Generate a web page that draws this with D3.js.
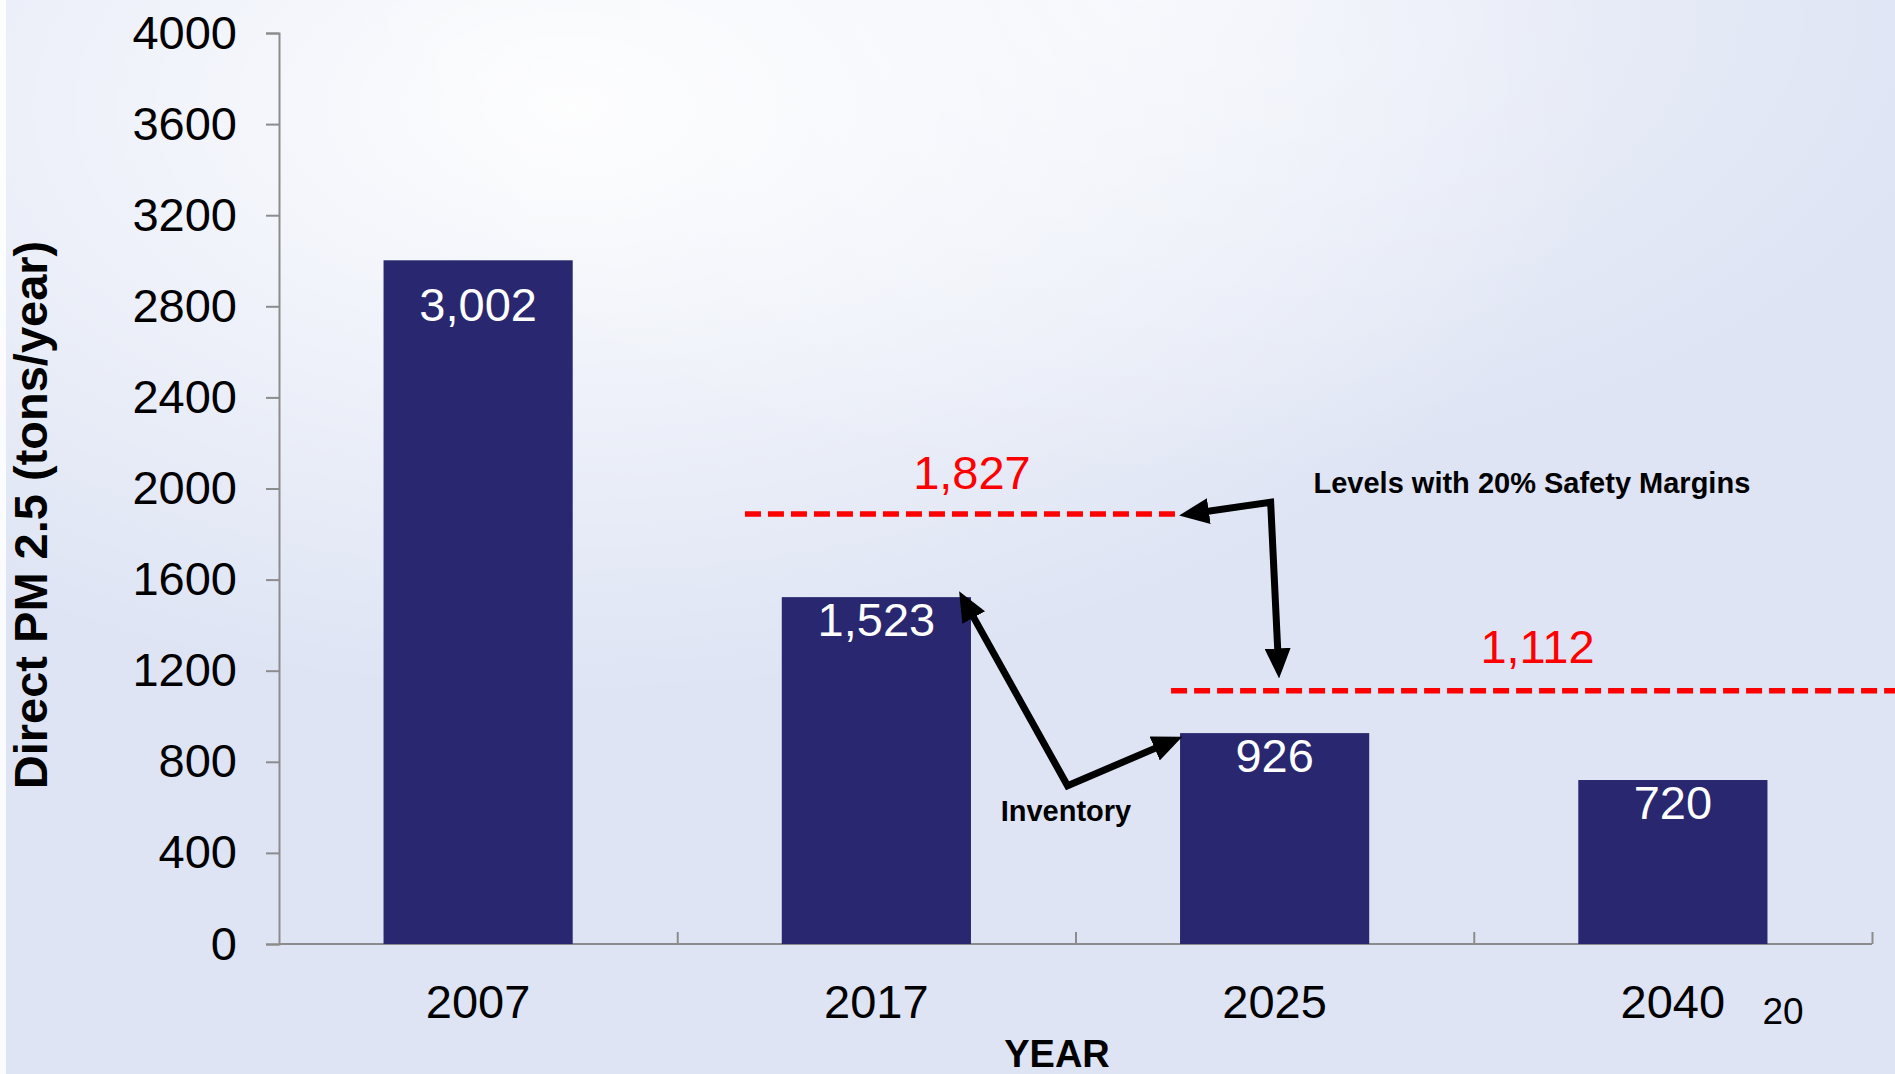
<!DOCTYPE html>
<meta charset="utf-8">
<html>
<head>
<style>
  body { margin: 0; overflow: hidden; }
  svg text { font-family: "Liberation Sans", Arial, sans-serif; }
</style>
</head>
<body>
<div id="chart"></div>
<script src="https://d3js.org/d3.v7.min.js"></script>
<script>

  // Data
  var years = ["2007", "2017", "2025", "2040"];
  var emissions = [3002, 1523, 926, 720];
  var yTicks = [0, 400, 800, 1200, 1600, 2000, 2400, 2800, 3200, 3600, 4000];

  // safety margin levels (label, level where the dashed line sits, span in category units)
  var marginLabels = ["1,827", "1,112"];
  var marginLevels = [1888, 1112];
  var marginSpans = [[1.17, 2.25], [2.24, 4.1]];

  // arrows, in category units / tons
  var inventoryArrow = [[1.72, 1510], [1.98, 695], [2.245, 893]];
  var marginArrow = [[2.285, 1888], [2.49, 1940], [2.51, 1210]];

  var W = 1895, H = 1074;
  var margin = {top: 33, left: 279, right: 23, bottom: 130};
  var plotW = W - margin.left - margin.right,
      plotH = 944 - margin.top;

  var svg = d3.select("#chart").append("svg")
      .attr("width", W)
      .attr("height", H);

  // background, a soft sky
  var defs = svg.append("defs");
  var g1 = defs.append("radialGradient").attr("id", "cloud1")
      .attr("cx", 0.3).attr("cy", 0.1).attr("r", 0.55);
  g1.append("stop").attr("offset", "0%").attr("stop-color", "#ffffff").attr("stop-opacity", 0.95);
  g1.append("stop").attr("offset", "100%").attr("stop-color", "#ffffff").attr("stop-opacity", 0);
  var g2 = defs.append("radialGradient").attr("id", "cloud2")
      .attr("cx", 0.6).attr("cy", 0.0).attr("r", 0.45);
  g2.append("stop").attr("offset", "0%").attr("stop-color", "#ffffff").attr("stop-opacity", 0.6);
  g2.append("stop").attr("offset", "100%").attr("stop-color", "#ffffff").attr("stop-opacity", 0);

  svg.append("rect").attr("width", W).attr("height", H).attr("fill", "#dee4f4");
  svg.append("rect").attr("width", W).attr("height", H).attr("fill", "url(#cloud1)");
  svg.append("rect").attr("width", W).attr("height", H).attr("fill", "url(#cloud2)");
  svg.append("rect").attr("width", 6).attr("height", H).attr("fill", "#ffffff").attr("opacity", 0.85);

  // arrow head
  defs.append("marker")
      .attr("id", "head")
      .attr("markerUnits", "userSpaceOnUse")
      .attr("markerWidth", 30).attr("markerHeight", 26)
      .attr("refX", 20).attr("refY", 13)
      .attr("orient", "auto-start-reverse")
    .append("path")
      .attr("d", "M0,0 L30,13 L0,26 Z")
      .attr("fill", "#000");

  var chart = svg.append("g")
      .attr("transform", "translate(" + margin.left + "," + margin.top + ")");

  // scales
  var x = d3.scaleBand()
      .domain(years)
      .range([0, plotW])
      .paddingInner(0.525)
      .paddingOuter(0.2625);

  var xc = d3.scaleLinear()
      .domain([0, years.length])
      .range([0, plotW]);

  var y = d3.scaleLinear()
      .domain([0, 4000])
      .range([plotH, 0]);

  // Y axis
  var yAxis = chart.append("g")
      .call(d3.axisLeft(y).tickValues(yTicks).tickFormat(d3.format("d")).tickSize(13).tickPadding(29));
  yAxis.selectAll("line, path").attr("stroke", "#8c8c8c").attr("stroke-width", 2);
  yAxis.selectAll("text").attr("font-size", 47).attr("fill", "#000")
      .style("font-family", "'Liberation Sans', Arial, sans-serif");

  // X axis line with category dividers
  var xAxis = chart.append("g")
      .attr("transform", "translate(0," + plotH + ")")
      .call(d3.axisBottom(xc).tickValues([1, 2, 3, 4]).tickSize(-12).tickFormat(""));
  xAxis.select(".domain").attr("d", "M0,0H" + plotW);
  xAxis.selectAll("line, path").attr("stroke", "#8c8c8c").attr("stroke-width", 2);

  var xLabels = chart.append("g")
      .attr("transform", "translate(0," + plotH + ")")
      .call(d3.axisBottom(x).tickSize(0).tickPadding(41));
  xLabels.select(".domain").remove();
  xLabels.selectAll("text").attr("font-size", 47).attr("fill", "#000")
      .style("font-family", "'Liberation Sans', Arial, sans-serif");

  // bars
  var data = years.map(function(d, i) { return {year: d, v: emissions[i]}; });

  chart.selectAll(".bar")
      .data(data)
    .enter().append("rect")
      .attr("class", "bar")
      .attr("x", function(d) { return x(d.year); })
      .attr("y", function(d) { return y(d.v); })
      .attr("width", x.bandwidth())
      .attr("height", function(d) { return plotH - y(d.v); })
      .attr("fill", "#29276f");

  chart.selectAll(".barlabel")
      .data(data)
    .enter().append("text")
      .attr("class", "barlabel")
      .attr("x", function(d) { return x(d.year) + x.bandwidth() / 2; })
      .attr("y", function(d) { return y(d.v) + (d.v > 2500 ? 61 : 39); })
      .attr("text-anchor", "middle")
      .attr("font-size", 47)
      .attr("fill", "#fff")
      .text(function(d) { return d3.format(",")(d.v); });

  // dashed safety margin lines
  marginLevels.forEach(function(lv, i) {
    chart.append("line")
        .attr("x1", xc(marginSpans[i][0]))
        .attr("x2", xc(marginSpans[i][1]))
        .attr("y1", y(lv))
        .attr("y2", y(lv))
        .attr("stroke", "#ff0000")
        .attr("stroke-width", 5.5)
        .attr("stroke-dasharray", "16,7");
  });

  chart.append("text")
      .attr("x", xc(1.74)).attr("y", y(2000))
      .attr("text-anchor", "middle")
      .attr("font-size", 47).attr("fill", "#ff0000")
      .text(marginLabels[0]);

  chart.append("text")
      .attr("x", xc(3.16)).attr("y", y(1234))
      .attr("text-anchor", "middle")
      .attr("font-size", 47).attr("fill", "#ff0000")
      .text(marginLabels[1]);

  // arrows
  var arrowLine = d3.line()
      .x(function(d) { return xc(d[0]); })
      .y(function(d) { return y(d[1]); });

  [inventoryArrow, marginArrow].forEach(function(pts) {
    chart.append("path")
        .attr("d", arrowLine(pts))
        .attr("fill", "none")
        .attr("stroke", "#000")
        .attr("stroke-width", 7)
        .attr("stroke-linejoin", "miter")
        .attr("marker-start", "url(#head)")
        .attr("marker-end", "url(#head)");
  });

  chart.append("text")
      .attr("x", xc(3.146)).attr("y", y(1979))
      .attr("text-anchor", "middle")
      .attr("font-size", 29).attr("font-weight", "bold").attr("fill", "#000")
      .text("Levels with 20% Safety Margins");

  chart.append("text")
      .attr("x", xc(1.976)).attr("y", y(540))
      .attr("text-anchor", "middle")
      .attr("font-size", 29).attr("font-weight", "bold").attr("fill", "#000")
      .text("Inventory");

  // axis titles
  svg.append("text")
      .attr("transform", "translate(47,515) rotate(-90)")
      .attr("text-anchor", "middle")
      .attr("font-size", 47).attr("font-weight", "bold").attr("fill", "#000")
      .text("Direct PM 2.5 (tons/year)");

  svg.append("text")
      .attr("x", 1057).attr("y", 1067)
      .attr("text-anchor", "middle")
      .attr("font-size", 38).attr("font-weight", "bold").attr("fill", "#000")
      .text("YEAR");

  // slide number
  svg.append("text")
      .attr("x", 1783).attr("y", 1024)
      .attr("text-anchor", "middle")
      .attr("font-size", 37).attr("fill", "#000")
      .text("20");

</script>
</body>
</html>
